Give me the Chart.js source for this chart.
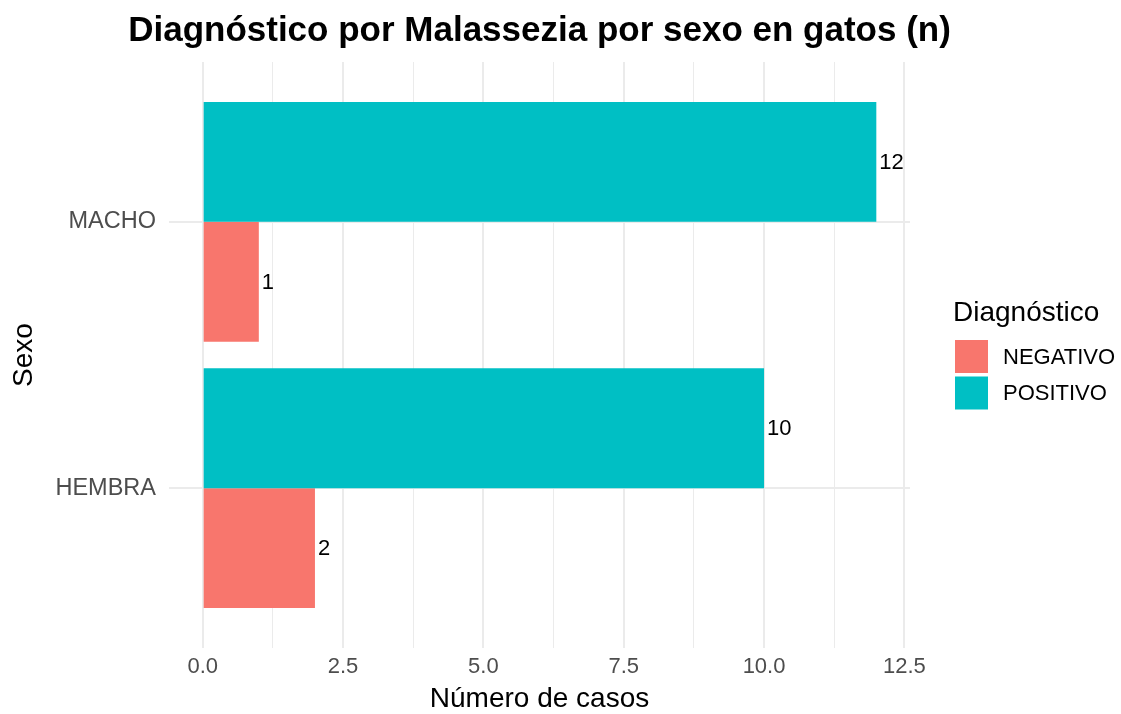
<!DOCTYPE html>
<html>
<head>
<meta charset="utf-8">
<script src="https://cdn.jsdelivr.net/npm/chart.js@4.4.1/dist/chart.umd.min.js"></script>
<style>
  body { margin: 0; background: #ffffff; }
  canvas { display: block; }
</style>
</head>
<body>
<canvas id="chart" width="1121" height="714"></canvas>
<script>
// Data (bottom to top, as drawn)
const categories = ['HEMBRA', 'MACHO'];
const negativo = [2, 1];
const positivo = [10, 12];
const xTicks = [0, 1.25, 2.5, 3.75, 5, 6.25, 7.5, 8.75, 10, 11.25, 12.5];
const chartTitle = 'Diagnóstico por Malassezia por sexo en gatos (n)';

const FONT = "'Liberation Sans', Arial, sans-serif";
Chart.defaults.font.family = FONT;

function toPoints(values) {
    return values.map((v, i) => ({ x: v, y: i + 1 }));
}

// Title centred over the panel, not squeezed to its width
const panelTitle = {
    id: 'panelTitle',
    afterDraw(chart) {
        const ctx = chart.ctx;
        const area = chart.chartArea;
        ctx.save();
        ctx.font = 'bold 35px ' + FONT;
        ctx.fillStyle = '#000000';
        ctx.textAlign = 'center';
        ctx.textBaseline = 'alphabetic';
        ctx.fillText(chartTitle, (area.left + area.right) / 2, 41);
        ctx.restore();
    }
};

// Value labels at the end of each bar
const barLabels = {
    id: 'barLabels',
    afterDatasetsDraw(chart) {
        const ctx = chart.ctx;
        ctx.save();
        ctx.font = '22px ' + FONT;
        ctx.fillStyle = '#000000';
        ctx.textAlign = 'left';
        ctx.textBaseline = 'middle';
        chart.data.datasets.forEach((ds, i) => {
            chart.getDatasetMeta(i).data.forEach((bar, j) => {
                ctx.fillText(String(ds.data[j].x), bar.x + 3, bar.y + 1);
            });
        });
        ctx.restore();
    }
};

// ggplot-like legend on the right
const sideLegend = {
    id: 'sideLegend',
    afterDraw(chart) {
        const ctx = chart.ctx;
        const x = 955, box = 33, step = 36.5;
        let y = 340;
        ctx.save();
        ctx.fillStyle = '#000000';
        ctx.textBaseline = 'alphabetic';
        ctx.textAlign = 'left';
        ctx.font = '28px ' + FONT;
        ctx.fillText('Diagnóstico', x - 2, 321);
        ctx.font = '22px ' + FONT;
        ctx.textBaseline = 'middle';
        chart.data.datasets.slice().reverse().forEach(ds => {
            ctx.fillStyle = ds.backgroundColor;
            ctx.fillRect(x, y, box, box);
            ctx.fillStyle = '#000000';
            ctx.fillText(ds.label, x + 48, y + box / 2 + 1);
            y += step;
        });
        ctx.restore();
    }
};

new Chart(document.getElementById('chart'), {
    type: 'bar',
    data: {
        datasets: [
            { label: 'POSITIVO', data: toPoints(positivo), backgroundColor: '#00BFC4' },
            { label: 'NEGATIVO', data: toPoints(negativo), backgroundColor: '#F8766D' }
        ]
    },
    options: {
        indexAxis: 'y',
        responsive: false,
        animation: false,
        categoryPercentage: 0.9,
        barPercentage: 1.0,
        layout: { padding: { left: 0, right: 211, top: 62, bottom: 0 } },
        plugins: {
            legend: { display: false },
            tooltip: { enabled: false },
            title: { display: false }
        },
        scales: {
            x: {
                type: 'linear',
                min: -0.6,
                max: 12.6,
                afterBuildTicks: scale => { scale.ticks = xTicks.map(v => ({ value: v })); },
                afterFit: scale => { scale.height = 66; scale.paddingLeft = 0; scale.paddingRight = 0; },
                border: { display: false },
                grid: {
                    color: '#ebebeb',
                    lineWidth: c => (c.tick && c.tick.value % 2.5 === 0 ? 2 : 1),
                    drawTicks: false
                },
                ticks: {
                    autoSkip: false,
                    maxRotation: 0,
                    padding: 6,
                    color: '#4d4d4d',
                    font: { size: 22 },
                    callback: v => (v % 2.5 === 0 ? v.toFixed(1) : '')
                },
                title: {
                    display: true,
                    text: 'Número de casos',
                    color: '#000000',
                    font: { size: 28, lineHeight: 1 },
                    padding: { top: 0, bottom: 1 }
                }
            },
            y: {
                type: 'linear',
                min: 0.4,
                max: 2.6,
                offset: false,
                afterBuildTicks: scale => { scale.ticks = categories.map((c, i) => ({ value: i + 1 })); },
                afterFit: scale => { scale.width = 169; scale.paddingTop = 0; scale.paddingBottom = 0; },
                border: { display: false },
                grid: { color: '#ebebeb', lineWidth: 2, drawTicks: false, offset: false },
                ticks: {
                    autoSkip: false,
                    padding: 13,
                    color: '#4d4d4d',
                    font: { size: 23.5 },
                    callback: v => categories[v - 1]
                },
                title: {
                    display: true,
                    text: 'Sexo',
                    color: '#000000',
                    font: { size: 28, lineHeight: 1 },
                    padding: { top: 10, bottom: 0 }
                }
            }
        }
    },
    plugins: [barLabels, sideLegend, panelTitle]
});
</script>
</body>
</html>
